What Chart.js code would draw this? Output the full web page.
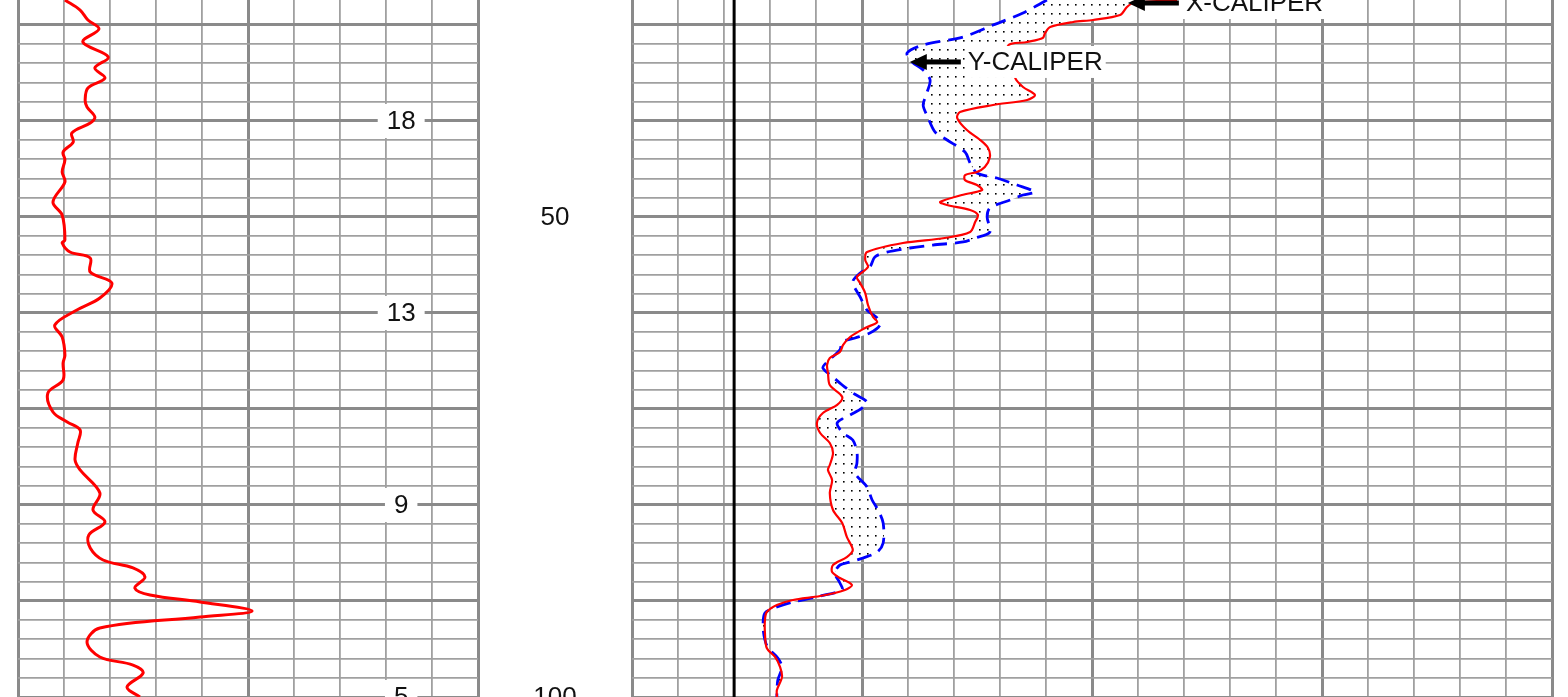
<!DOCTYPE html>
<html><head><meta charset="utf-8">
<script src="https://cdn.jsdelivr.net/npm/chart.js@4.4.1/dist/chart.umd.min.js"></script>
<style>
html,body{margin:0;padding:0;background:#fff;overflow:hidden}
#wrap{position:relative;width:1568px;height:697px;background:#fff}
canvas{position:absolute;left:0;top:0}
</style></head>
<body><div id="wrap"><canvas id="c1" width="1568" height="697"></canvas><canvas id="c2" width="1568" height="697"></canvas></div>
<script>
// ---- depth range ----
const depthTop = 27.396;
const depthBottom = 100;

// ---- left track curve (red) ----
const grDepth = [27.40,28.44,29.48,30.42,31.77,33.33,34.48,35.52,36.56,37.81,38.54,39.58,40.21,41.25,42.19,43.23,44.06,45.31,46.35,48.44,49.79,52.40,52.71,53.65,54.27,55.73,56.88,58.44,59.69,61.25,62.50,64.38,65.21,66.98,68.33,70.31,71.35,72.19,73.54,75.31,76.35,78.75,80.52,81.77,83.13,84.48,85.73,86.56,87.50,88.65,89.37,90.10,91.04,91.67,92.81,94.27,95.83,96.67,97.50,98.96,100.0];
const grValue = [10.2,13.5,15.2,17.6,14.1,19.6,16.7,18.9,15.2,14.6,15.0,16.7,15.7,11.7,12.0,9.8,10.2,9.6,10.2,7.6,9.6,10.2,9.6,11.3,15.7,15.7,20.4,17.8,12.8,8.0,9.6,10.2,9.8,9.8,6.5,7.6,10.7,13.5,13.0,12.4,13.5,17.8,16.3,18.9,15.4,15.7,18.5,25.0,27.6,25.4,28.7,39.6,50.9,39.6,17.8,15.0,17.8,25.0,27.2,23.7,26.5];

// ---- right track: X-caliper (red) ----
const xcalDepth = [27.40,27.71,28.13,28.96,29.48,29.69,30.21,30.83,31.35,31.77,32.19,35.52,36.46,37.29,37.81,38.33,39.06,39.69,40.94,41.98,42.81,43.75,44.79,45.31,45.63,46.15,46.67,47.19,47.71,48.44,48.75,49.27,49.79,50.52,51.56,52.19,52.71,53.65,54.48,55.21,56.25,56.88,57.92,59.17,60.42,60.94,61.56,62.50,63.33,64.06,64.69,65.42,66.25,67.50,68.75,69.58,70.42,71.46,72.50,73.54,74.58,75.83,76.35,77.40,78.75,80.52,81.88,83.33,84.69,85.42,86.25,86.98,87.60,88.33,88.85,89.48,89.90,90.42,91.15,91.98,93.33,94.90,95.83,96.88,97.92,99.27,100.0];
const xcalValue = [11.85,10.89,10.76,10.61,10.02,9.59,9.09,8.98,8.93,8.59,8.17,8.33,8.50,8.76,8.59,7.85,7.13,7.07,7.28,7.57,7.74,7.78,7.67,7.50,7.24,7.24,7.50,7.61,7.17,6.70,6.85,7.35,7.52,7.46,7.35,6.80,5.89,5.11,5.07,5.13,4.89,4.96,5.07,5.13,5.24,5.33,5.07,4.74,4.59,4.52,4.30,4.24,4.26,4.30,4.57,4.46,4.15,4.02,4.09,4.30,4.37,4.30,4.26,4.35,4.30,4.37,4.57,4.67,4.80,4.67,4.37,4.35,4.52,4.78,4.63,4.09,3.50,3.15,2.93,2.89,2.89,2.93,3.11,3.22,3.26,3.15,3.15];

// ---- right track: Y-caliper (blue dashed) ----
const ycalDepth = [27.40,28.75,30.00,31.25,32.08,32.92,33.85,34.69,35.73,37.08,38.33,39.58,41.15,41.98,43.23,44.38,45.42,45.94,46.67,47.40,47.71,48.23,49.06,50.00,51.56,52.19,52.60,52.92,53.23,53.65,54.17,55.21,55.83,56.77,58.33,59.69,60.52,61.25,62.08,62.60,63.02,63.85,65.10,65.73,66.67,67.50,68.33,69.27,69.90,70.63,71.46,72.50,73.23,74.48,75.63,76.67,78.13,79.48,80.52,81.88,83.96,84.90,85.52,85.94,86.25,87.08,88.13,88.85,89.48,90.10,90.63,91.25,92.71,94.06,94.90,95.94,96.88,98.23,99.58,100.0];
const ycalValue = [9.02,8.50,7.85,7.20,6.33,5.98,6.09,6.33,6.48,6.41,6.33,6.43,6.59,6.85,7.24,7.35,7.50,7.93,8.37,8.76,8.50,8.22,7.78,7.72,7.78,7.46,7.20,6.54,6.04,5.54,5.28,5.17,4.96,4.80,4.96,5.11,5.33,5.39,5.17,4.85,4.57,4.52,4.24,4.15,4.37,4.57,4.80,5.11,5.00,4.74,4.46,4.59,4.80,4.89,4.89,4.85,5.11,5.22,5.35,5.46,5.46,5.33,5.02,4.74,4.52,4.41,4.52,4.57,4.09,3.50,3.15,2.89,2.85,2.89,2.96,3.17,3.26,3.17,3.15,3.15];

// ---- bit size reference line ----
const bitSize = [2.22];

// ---- tick labels ----
const leftTickDepths = [40, 60, 80, 100];
const leftTickLabels = ['18', '13', '9', '5'];
const leftTickValue = [83.3];
const midTickDepths = [50, 100];
const midTickLabels = ['50', '100'];

// ---- curve annotations (anchor on curve) ----
const curveLabelTexts = ['X-CALIPER', 'Y-CALIPER'];
const curveLabelValues = [10.78, 6.04];
const curveLabelDepths = [27.71, 33.85];

const FONT = "'Liberation Sans', Arial, sans-serif";
const toPts = (vals, deps) => vals.map((v, i) => ({x: v, y: deps[i]}));

function isMajor(c, every) {
  return c.tick && Math.abs(c.tick.value / every - Math.round(c.tick.value / every)) < 1e-6;
}
function gridOpts(majorEvery) {
  return {
    display: true,
    drawTicks: false,
    color: (c) => isMajor(c, majorEvery) ? '#8a8a8a' : '#a0a0a0',
    lineWidth: (c) => isMajor(c, majorEvery) ? 3 : 1.8
  };
}
function yScale() {
  return {
    type: 'linear', reverse: true, min: depthTop, max: depthBottom,
    ticks: {display: false, stepSize: 2},
    afterBuildTicks: (s) => { s.ticks = s.ticks.filter(t => Math.abs(t.value / 2 - Math.round(t.value / 2)) < 1e-6); },
    afterFit: (s) => { s.width = 0; },
    border: {display: false},
    grid: gridOpts(10)
  };
}
function xScale(min, max, step, majorEvery) {
  return {
    type: 'linear', min, max, position: 'bottom',
    ticks: {display: false, stepSize: step},
    afterFit: (s) => { s.height = 0; },
    border: {display: false},
    grid: gridOpts(majorEvery)
  };
}

function whiteBoxText(ctx, text, cx, cy, padX, h) {
  const w = ctx.measureText(text).width;
  ctx.fillStyle = '#fff';
  ctx.fillRect(cx - w / 2 - padX, cy - h / 2, w + 2 * padX, h);
  ctx.fillStyle = '#111';
  ctx.fillText(text, cx, cy + 1);
}

const leftLabels = {
  id: 'leftLabels',
  afterDatasetsDraw(chart) {
    const ctx = chart.ctx, xs = chart.scales.x, ys = chart.scales.y;
    ctx.save();
    ctx.font = '26px ' + FONT;
    ctx.textAlign = 'center';
    ctx.textBaseline = 'middle';
    leftTickDepths.forEach((d, i) => {
      whiteBoxText(ctx, leftTickLabels[i], xs.getPixelForValue(leftTickValue[0]), ys.getPixelForValue(d), 9, 34);
    });
    ctx.restore();
  }
};

const rightLabels = {
  id: 'rightLabels',
  afterDatasetsDraw(chart) {
    const ctx = chart.ctx, xs = chart.scales.x, ys = chart.scales.y;
    ctx.save();
    ctx.font = '26px ' + FONT;
    ctx.textAlign = 'center';
    ctx.textBaseline = 'middle';
    ctx.fillStyle = '#111';
    const midX = chart.chartArea.left - 77;
    midTickDepths.forEach((d, i) => ctx.fillText(midTickLabels[i], midX, ys.getPixelForValue(d) + 1));
    ctx.font = '26px ' + FONT;
    ctx.textAlign = 'left';
    curveLabelTexts.forEach((t, i) => {
      const px = xs.getPixelForValue(curveLabelValues[i]);
      const py = ys.getPixelForValue(curveLabelDepths[i]);
      const tw = ctx.measureText(t).width;
      ctx.fillStyle = '#fff';
      ctx.fillRect(px + 55, py - 16, tw + 6, 32);
      ctx.fillStyle = '#111';
      ctx.fillText(t, px + 58, py + 1);
      ctx.fillStyle = '#000';
      ctx.fillRect(px + 14, py - 2.5, 37, 5);
      ctx.beginPath();
      ctx.moveTo(px, py);
      ctx.lineTo(px + 17, py - 8);
      ctx.lineTo(px + 17, py + 8);
      ctx.closePath();
      ctx.fill();
    });
    ctx.restore();
  }
};

// dotted fill pattern
const pc = document.createElement('canvas');
pc.width = 8; pc.height = 9;
const pctx = pc.getContext('2d');
pctx.fillStyle = '#fff'; pctx.fillRect(0, 0, 8, 9);
pctx.fillStyle = '#000'; pctx.fillRect(3, 4, 1.6, 1.6);
const dotPattern = document.getElementById('c2').getContext('2d').createPattern(pc, 'repeat');

Chart.defaults.font.family = FONT;

new Chart(document.getElementById('c1'), {
  type: 'line',
  data: {datasets: [{
    data: toPts(grValue, grDepth),
    borderColor: '#ff0000', borderWidth: 3, pointRadius: 0, tension: 0.35, fill: false
  }]},
  options: {
    indexAxis: 'y', responsive: false, animation: false, events: [],
    layout: {padding: {left: 18, right: 1568 - 478, top: 0, bottom: 0}},
    plugins: {legend: {display: false}, tooltip: {enabled: false}},
    scales: {x: xScale(0, 100, 10, 50), y: yScale()}
  },
  plugins: [leftLabels]
});

new Chart(document.getElementById('c2'), {
  type: 'line',
  data: {datasets: [
    {data: [{x: bitSize[0], y: depthTop}, {x: bitSize[0], y: depthBottom}], borderColor: '#000', borderWidth: 3, pointRadius: 0, fill: false, tension: 0},
    {data: toPts(xcalValue, xcalDepth), borderColor: '#ff0000', borderWidth: 2.2, pointRadius: 0, tension: 0.3, fill: false},
    {data: toPts(ycalValue, ycalDepth), borderColor: '#0000ff', borderWidth: 2.8, borderDash: [15, 8], pointRadius: 0, tension: 0.3, fill: '-1', backgroundColor: dotPattern}
  ]},
  options: {
    indexAxis: 'y', responsive: false, animation: false, events: [],
    layout: {padding: {left: 632, right: 1568 - 1552, top: 0, bottom: 0}},
    plugins: {legend: {display: false}, tooltip: {enabled: false}, filler: {propagate: false}},
    scales: {x: xScale(0, 20, 1, 5), y: yScale()}
  },
  plugins: [rightLabels]
});
</script>
</body></html>
